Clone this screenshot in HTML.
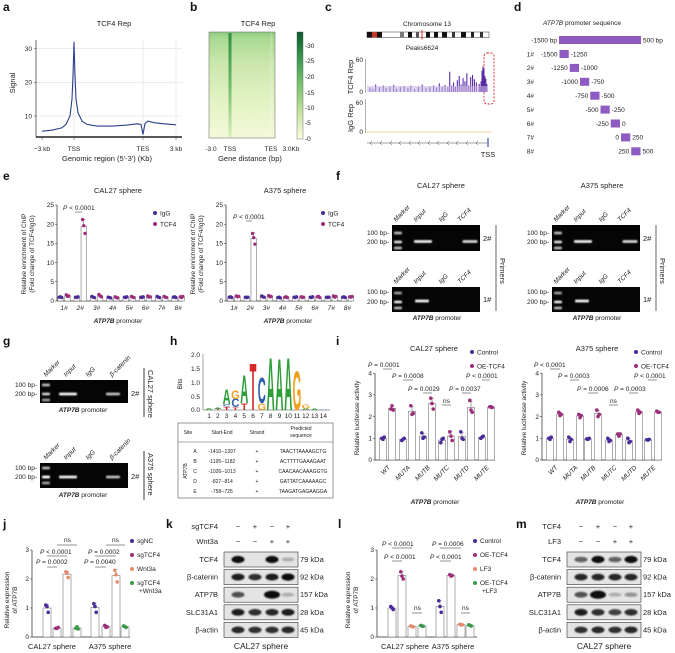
<!DOCTYPE html>
<html><head><meta charset="utf-8">
<style>
html,body{margin:0;padding:0;background:#fff;}
svg{display:block;font-family:"Liberation Sans",Arial,sans-serif;}
.t{font-size:6.5px;fill:#222;}
.tt{font-size:7.5px;fill:#222;}
.pl{font-size:12px;font-weight:bold;fill:#111;}
.it{font-style:italic;}
</style></head>
<body>
<svg id="fig" width="675" height="653" viewBox="0 0 675 653" xmlns="http://www.w3.org/2000/svg">
<defs>
<filter id="blur" x="-30%" y="-100%" width="160%" height="300%"><feGaussianBlur stdDeviation="0.9"/></filter>
<linearGradient id="hm" x1="0" y1="0" x2="0" y2="1">
<stop offset="0" stop-color="#8ccb80"/><stop offset="0.06" stop-color="#a9d991"/><stop offset="0.3" stop-color="#cbe7ad"/><stop offset="0.65" stop-color="#e3f2c3"/><stop offset="1" stop-color="#f3f9da"/></linearGradient>
<linearGradient id="hmT" x1="0" y1="0" x2="0" y2="1">
<stop offset="0" stop-color="#2f8c45"/><stop offset="0.5" stop-color="#6dbb6b"/><stop offset="1" stop-color="#d9eeb8"/></linearGradient>
<linearGradient id="cb" x1="0" y1="0" x2="0" y2="1">
<stop offset="0" stop-color="#0b5c2e"/><stop offset="0.25" stop-color="#3a9a4e"/><stop offset="0.5" stop-color="#7cc470"/><stop offset="0.75" stop-color="#c2e39f"/><stop offset="1" stop-color="#ffffe0"/></linearGradient>
</defs>

<!-- panel letters -->
<text class="pl" x="3" y="11">a</text>
<text class="pl" x="190" y="11">b</text>
<text class="pl" x="325" y="11">c</text>
<text class="pl" x="514" y="11">d</text>
<text class="pl" x="3" y="180">e</text>
<text class="pl" x="336" y="180">f</text>
<text class="pl" x="3" y="345">g</text>
<text class="pl" x="170" y="345">h</text>
<text class="pl" x="336" y="345">i</text>
<text class="pl" x="3" y="528">j</text>
<text class="pl" x="166" y="528">k</text>
<text class="pl" x="338" y="528">l</text>
<text class="pl" x="516" y="528">m</text>

<!-- a -->
<g id="pa">
<text class="tt" x="114" y="26" text-anchor="middle">TCF4 Rep</text>
<text class="tt" transform="translate(15,83) rotate(-90)" text-anchor="middle">Signal</text>
<text class="tt" x="107" y="161" text-anchor="middle">Genomic region (5′-3′) (Kb)</text>
</g>

<!-- b -->
<g>
<text class="tt" x="258" y="26" text-anchor="middle">TCF4 Rep</text>
<rect x="209" y="32" width="66" height="106" fill="url(#hm)" stroke="#777" stroke-width="0.6"/>
<rect x="228.5" y="33" width="3" height="104" fill="url(#hmT)"/>
<line x1="271" y1="33" x2="271" y2="137" stroke="#fff" stroke-width="0.5" opacity="0.6"/>
<rect x="297" y="32" width="6" height="107" fill="url(#cb)" stroke="#555" stroke-width="0.4"/>
<g class="t">
<text x="305" y="48">-30</text><text x="305" y="63">-25</text><text x="305" y="79">-20</text><text x="305" y="95">-15</text><text x="305" y="110">-10</text><text x="305" y="125">-5</text><text x="305" y="141">-0</text></g>
<g class="t" text-anchor="middle">
<text x="211" y="151">-3.0</text><text x="230" y="151">TSS</text><text x="271" y="151">TES</text><text x="291" y="151">3.0Kb</text></g>
<text class="tt" x="250" y="161" text-anchor="middle">Gene distance (bp)</text>
</g>

<!-- c -->
<g id="pc">
<text class="t" x="427" y="26" text-anchor="middle">Chromosome 13</text>
<g>
<rect x="367" y="32" width="122" height="5.5" fill="#fff" stroke="#333" stroke-width="0.5"/>
<rect x="367" y="32" width="5" height="5.5" fill="#111"/><rect x="372" y="32" width="5" height="5.5" fill="#c0392b"/><rect x="377" y="32" width="5" height="5.5" fill="#111"/>
<rect x="400" y="32" width="4" height="5.5" fill="#777"/><rect x="408" y="32" width="4" height="5.5" fill="#111"/><rect x="416" y="32" width="3" height="5.5" fill="#555"/>
<rect x="426" y="32" width="4" height="5.5" fill="#111"/><rect x="434" y="32" width="4" height="5.5" fill="#111"/><rect x="442" y="32" width="5" height="5.5" fill="#111"/><rect x="452" y="32" width="3" height="5.5" fill="#333"/><rect x="461" y="32" width="5" height="5.5" fill="#111"/><rect x="471" y="32" width="3" height="5.5" fill="#222"/><rect x="480" y="32" width="3" height="5.5" fill="#333"/>
<line x1="422" y1="30" x2="422" y2="39.5" stroke="#d00" stroke-width="0.8"/></g>
<text class="t" x="422" y="50" text-anchor="middle">Peaks6624</text>
<text class="tt" transform="translate(353,77) rotate(-90)" text-anchor="middle">TCF4 Rep</text>
<text class="tt" transform="translate(353,118) rotate(-90)" text-anchor="middle">IgG Rep</text>
<line x1="365.5" y1="59" x2="365.5" y2="93" stroke="#999" stroke-width="0.8"/>
<line x1="365.5" y1="99" x2="365.5" y2="133" stroke="#999" stroke-width="0.8"/>
<text class="t" x="363" y="62" text-anchor="end">60</text><text class="t" x="363" y="94" text-anchor="end">0</text>
<text class="t" x="363" y="105" text-anchor="end">60</text><text class="t" x="363" y="134" text-anchor="end">0</text>
<line x1="366" y1="132" x2="492" y2="132" stroke="#f0c878" stroke-width="0.8"/>
<line x1="367" y1="143" x2="487" y2="143" stroke="#444" stroke-width="0.6"/>
<g stroke="#444" stroke-width="0.5" fill="none">
<path d="M372,141 l-2,2 l2,2M382,141 l-2,2 l2,2M392,141 l-2,2 l2,2M401,141 l-2,2 l2,2M411,141 l-2,2 l2,2M420,141 l-2,2 l2,2M430,141 l-2,2 l2,2M439,141 l-2,2 l2,2M449,141 l-2,2 l2,2M458,141 l-2,2 l2,2M468,141 l-2,2 l2,2M478,141 l-2,2 l2,2"/></g>
<line x1="488" y1="138" x2="488" y2="147" stroke="#3a4fa0" stroke-width="1.2"/>
<text class="tt" x="488" y="157" text-anchor="middle">TSS</text>
<rect x="484" y="53" width="10" height="51" rx="3" fill="none" stroke="#e02020" stroke-width="0.9" stroke-dasharray="2,1.5"/>
</g>

<!-- d -->
<g id="pd">
<text class="t" x="582" y="25" text-anchor="middle"><tspan class="it">ATP7B</tspan> promoter sequence</text>
<rect x="559" y="36" width="82" height="8" fill="#8e5bc2"/>
<text class="t" x="557" y="42.5" text-anchor="end">-1500 bp</text><text class="t" x="643" y="42.5">500 bp</text>
</g>

<!-- e -->
<g id="pe">
<text class="tt" x="118" y="193" text-anchor="middle">CAL27 sphere</text>
<text class="tt" x="285" y="193" text-anchor="middle">A375 sphere</text>
<text class="t" transform="translate(26,254) rotate(-90)" text-anchor="middle">Relative enrichment of ChIP</text>
<text class="t" transform="translate(34,254) rotate(-90)" text-anchor="middle">(Fold change of TCF4/IgG)</text>
<text class="t" transform="translate(195,254) rotate(-90)" text-anchor="middle">Relative enrichment of ChIP</text>
<text class="t" transform="translate(203,254) rotate(-90)" text-anchor="middle">(Fold change of TCF4/IgG)</text>
<text class="t" x="118" y="323" text-anchor="middle"><tspan class="it" font-weight="bold">ATP7B</tspan>  promoter</text>
<text class="t" x="288" y="323" text-anchor="middle"><tspan class="it" font-weight="bold">ATP7B</tspan>  promoter</text>
<text class="t" x="63" y="210"><tspan class="it">P</tspan> &lt; 0.0001</text><line x1="75" y1="212" x2="82" y2="212" stroke="#222" stroke-width="0.5"/>
<text class="t" x="233" y="219"><tspan class="it">P</tspan> &lt; 0.0001</text><line x1="246" y1="221" x2="252" y2="221" stroke="#222" stroke-width="0.5"/>
<circle cx="155" cy="213" r="2" fill="#4b2a9a"/><text class="t" x="160" y="215.5">IgG</text>
<circle cx="155" cy="224" r="2" fill="#9c2f7b"/><text class="t" x="160" y="226.5">TCF4</text>
<circle cx="323" cy="213" r="2" fill="#4b2a9a"/><text class="t" x="328" y="215.5">IgG</text>
<circle cx="323" cy="224" r="2" fill="#9c2f7b"/><text class="t" x="328" y="226.5">TCF4</text>
</g>

<!-- f gels -->
<g id="pf">
<text class="tt" x="441" y="188" text-anchor="middle">CAL27 sphere</text>
<text class="tt" x="602" y="188" text-anchor="middle">A375 sphere</text>
</g>

<!-- g gels -->
<g id="pg"></g>

<!-- h -->
<g id="ph">
<text class="t" transform="translate(182,384) rotate(-90)" text-anchor="middle">Bits</text>
<line x1="203" y1="354" x2="203" y2="410" stroke="#444" stroke-width="0.5"/>
<line x1="203" y1="410" x2="330" y2="410" stroke="#444" stroke-width="0.5"/>
<g class="t" text-anchor="end"><text x="200" y="357">2.0</text><text x="200" y="371">1.5</text><text x="200" y="385">1.0</text><text x="200" y="399">0.5</text><text x="200" y="412">0.0</text></g>
<rect x="178" y="423" width="155" height="75" fill="#fff" stroke="#555" stroke-width="0.6"/>
<line x1="178" y1="442" x2="333" y2="442" stroke="#555" stroke-width="0.5"/>
<g font-size="5px" fill="#222" text-anchor="middle">
<text x="188" y="434">Site</text><text x="222" y="434">Start-End</text><text x="257" y="434">Strand</text><text x="301" y="430">Predicted</text><text x="301" y="437">sequence</text>
<text transform="translate(187,471) rotate(-90)">ATP7B</text>
<text x="195" y="453">A</text><text x="222" y="453">-1410--1397</text><text x="257" y="453">+</text><text x="303" y="453">TAACTTAAAAGCTG</text>
<text x="195" y="463">B</text><text x="222" y="463">-1195--1182</text><text x="257" y="463">+</text><text x="303" y="463">ACTTTTGAAAGAAT</text>
<text x="195" y="473">C</text><text x="222" y="473">-1026--1013</text><text x="257" y="473">+</text><text x="303" y="473">CAACAACAAAGGTG</text>
<text x="195" y="483">D</text><text x="222" y="483">-827--814</text><text x="257" y="483">+</text><text x="303" y="483">GATTATCAAAAAGC</text>
<text x="195" y="493">E</text><text x="222" y="493">-758--725</text><text x="257" y="493">+</text><text x="303" y="493">TAAGATGAGAAGGA</text>
</g></g>

<!-- i -->
<g id="pi">
<text class="tt" x="434" y="351" text-anchor="middle">CAL27 sphere</text>
<text class="tt" x="597" y="351" text-anchor="middle">A375 sphere</text>
<circle cx="472" cy="352" r="2" fill="#4b2a9a"/><text class="t" x="477" y="354.5">Control</text>
<circle cx="472" cy="366" r="2" fill="#9c2f7b"/><text class="t" x="477" y="368.5">OE-TCF4</text>
<circle cx="636" cy="352" r="2" fill="#4b2a9a"/><text class="t" x="641" y="354.5">Control</text>
<circle cx="636" cy="366" r="2" fill="#9c2f7b"/><text class="t" x="641" y="368.5">OE-TCF4</text>
<text class="t" transform="translate(359,418) rotate(-90)" text-anchor="middle">Relative luciferase activity</text>
<text class="t" transform="translate(526,418) rotate(-90)" text-anchor="middle">Relative luciferase activity</text>
<text class="t" x="435" y="504" text-anchor="middle"><tspan class="it" font-weight="bold">ATP7B</tspan>  promoter</text>
<text class="t" x="600" y="504" text-anchor="middle"><tspan class="it" font-weight="bold">ATP7B</tspan>  promoter</text>
<g class="t">
<text x="368" y="367"><tspan class="it">P</tspan> = 0.0001</text><line x1="383" y1="369" x2="392" y2="369" stroke="#222" stroke-width="0.5"/>
<text x="392" y="378"><tspan class="it">P</tspan> = 0.0008</text><line x1="403" y1="380" x2="413" y2="380" stroke="#222" stroke-width="0.5"/>
<text x="408" y="391"><tspan class="it">P</tspan> = 0.0029</text><line x1="423" y1="393" x2="432" y2="393" stroke="#222" stroke-width="0.5"/>
<text x="449" y="391"><tspan class="it">P</tspan> = 0.0037</text><line x1="462" y1="393" x2="471" y2="393" stroke="#222" stroke-width="0.5"/>
<text x="466" y="378"><tspan class="it">P</tspan> &lt; 0.0001</text><line x1="482" y1="380" x2="490" y2="380" stroke="#222" stroke-width="0.5"/>
<text x="443" y="403">ns</text><line x1="442" y1="405" x2="451" y2="405" stroke="#222" stroke-width="0.5"/>
<text x="534" y="367"><tspan class="it">P</tspan> &lt; 0.0001</text><line x1="550" y1="369" x2="560" y2="369" stroke="#222" stroke-width="0.5"/>
<text x="558" y="378"><tspan class="it">P</tspan> = 0.0003</text><line x1="570" y1="380" x2="579" y2="380" stroke="#222" stroke-width="0.5"/>
<text x="577" y="391"><tspan class="it">P</tspan> = 0.0006</text><line x1="588" y1="393" x2="598" y2="393" stroke="#222" stroke-width="0.5"/>
<text x="614" y="391"><tspan class="it">P</tspan> = 0.0003</text><line x1="629" y1="393" x2="638" y2="393" stroke="#222" stroke-width="0.5"/>
<text x="634" y="378"><tspan class="it">P</tspan> &lt; 0.0001</text><line x1="648" y1="380" x2="657" y2="380" stroke="#222" stroke-width="0.5"/>
<text x="610" y="403">ns</text><line x1="609" y1="405" x2="618" y2="405" stroke="#222" stroke-width="0.5"/>
</g></g>

<!-- j -->
<g id="pj">
<text class="t" transform="translate(9,600) rotate(-90)" text-anchor="middle">Relative expression</text>
<text class="t" transform="translate(17,600) rotate(-90)" text-anchor="middle">of ATP7B</text>
<text class="tt" x="52" y="649" text-anchor="middle">CAL27 sphere</text><text class="tt" x="110" y="649" text-anchor="middle">A375 sphere</text>
<g class="t">
<text x="64" y="542">ns</text><line x1="57" y1="545" x2="77" y2="545" stroke="#222" stroke-width="0.5"/>
<text x="40" y="554"><tspan class="it">P</tspan> &lt; 0.0001</text><line x1="47" y1="556" x2="67" y2="556" stroke="#222" stroke-width="0.5"/>
<text x="36" y="564"><tspan class="it">P</tspan> = 0.0002</text><line x1="47" y1="567" x2="57" y2="567" stroke="#222" stroke-width="0.5"/>
<text x="112" y="542">ns</text><line x1="106" y1="545" x2="125" y2="545" stroke="#222" stroke-width="0.5"/>
<text x="88" y="554"><tspan class="it">P</tspan> = 0.0002</text><line x1="95" y1="556" x2="116" y2="556" stroke="#222" stroke-width="0.5"/>
<text x="84" y="564"><tspan class="it">P</tspan> = 0.0040</text><line x1="95" y1="567" x2="106" y2="567" stroke="#222" stroke-width="0.5"/>
<circle cx="132" cy="541" r="2" fill="#4b2a9a"/><text x="137" y="543">sgNC</text>
<circle cx="132" cy="555" r="2" fill="#9c2f7b"/><text x="137" y="557">sgTCF4</text>
<circle cx="132" cy="569" r="2" fill="#e88a70"/><text x="137" y="571">Wnt3a</text>
<circle cx="132" cy="583" r="2" fill="#3a9a4a"/><text x="137" y="585">sgTCF4</text><text x="139" y="593">+Wnt3a</text>
</g></g>

<!-- l -->
<g id="pl">
<text class="t" transform="translate(350,600) rotate(-90)" text-anchor="middle">Relative expression</text>
<text class="t" transform="translate(358,600) rotate(-90)" text-anchor="middle">of ATP7B</text>
<text class="tt" x="405" y="649" text-anchor="middle">CAL27 sphere</text><text class="tt" x="453" y="649" text-anchor="middle">A375 sphere</text>
<g class="t">
<text x="382" y="546"><tspan class="it">P</tspan> &lt; 0.0001</text><line x1="392" y1="548" x2="412" y2="548" stroke="#222" stroke-width="0.5"/>
<text x="384" y="559"><tspan class="it">P</tspan> &lt; 0.0001</text><line x1="392" y1="561" x2="402" y2="561" stroke="#222" stroke-width="0.5"/>
<text x="432" y="546"><tspan class="it">P</tspan> = 0.0006</text><line x1="440" y1="548" x2="461" y2="548" stroke="#222" stroke-width="0.5"/>
<text x="430" y="559"><tspan class="it">P</tspan> &lt; 0.0001</text><line x1="440" y1="561" x2="451" y2="561" stroke="#222" stroke-width="0.5"/>
<text x="414" y="610">ns</text><line x1="412" y1="613" x2="422" y2="613" stroke="#222" stroke-width="0.5"/>
<text x="462" y="610">ns</text><line x1="461" y1="613" x2="470" y2="613" stroke="#222" stroke-width="0.5"/>
<circle cx="475" cy="541" r="2" fill="#4b2a9a"/><text x="480" y="543">Control</text>
<circle cx="475" cy="555" r="2" fill="#9c2f7b"/><text x="480" y="557">OE-TCF4</text>
<circle cx="475" cy="569" r="2" fill="#e88a70"/><text x="480" y="571">LF3</text>
<circle cx="475" cy="583" r="2" fill="#3a9a4a"/><text x="480" y="585">OE-TCF4</text><text x="482" y="593">+LF3</text>
</g></g>

<g id="pk"></g>
<g id="pm"></g>
</svg>

<script>
// ---------- data ----------
const aBins = [0,10,20,24,28,30,31,32,33,34,36,40,45,55,70,85,95,99,101,103,106,112,122,134];
const aSignal = [5.5,5.8,6.5,7.5,10,15,22,32,22,15,11,8.5,7.5,7.0,7.0,7.3,7.7,7.5,4.5,7.8,8.5,8.0,7.7,7.4];
const aTicks = [10,20,30];

const trackPos = [2,5,8,12,16,19,23,27,30,34,38,42,45,49,53,57,61,65,69,72,75,78,81,84,86,88,90,92,94,96,98,100,102,104,106,108,110,112,114,117,118,119,120,121,122,123,124,125];
const trackVal = [8,6,14,9,12,7,10,13,6,9,11,8,12,6,10,14,7,9,12,8,16,10,13,9,38,12,18,10,22,30,14,26,20,35,12,28,32,24,18,15,10,20,40,48,44,30,25,15];

const segStart = [-1500,-1250,-1000,-750,-500,-250,0,250];

const eCats = ['1#','2#','3#','4#','5#','6#','7#','8#'];
const eTicks = [0,5,10,15,20,25];
const eCalIgG = [[1.0,1.1,0.9],[1.0,0.9,1.1],[1.2,1.0,0.9],[1.0,0.9,0.8],[1.0,0.9,1.1],[1.0,0.9,1.1],[1.2,1.0,0.9],[1.0,1.1,0.9]];
const eCalTCF4 = [[1.6,1.2,1.3],[21.2,19.6,17.6],[1.7,1.3,1.1],[1.1,0.9,0.8],[1.2,1.0,0.9],[1.3,1.0,1.1],[1.2,1.0,0.9],[1.1,0.9,1.2]];
const eA375IgG = [[1.0,1.1,0.9],[1.0,0.9,1.0],[1.3,1.1,1.0],[0.9,1.0,0.8],[1.0,0.9,1.1],[1.0,0.9,1.1],[1.0,0.9,1.0],[1.0,1.1,0.9]];
const eA375TCF4 = [[1.3,1.1,1.2],[17.6,16.5,14.8],[1.4,1.1,1.2],[1.0,1.1,0.9],[1.1,0.9,1.0],[1.1,1.2,0.9],[1.3,1.0,1.2],[1.1,1.0,1.2]];

const iCats = ['WT','MUTA','MUTB','MUTC','MUTD','MUTE'];
const iTicks = [0,1,2,3,4];
const iCalCtrl = [[1.0,0.95,1.05],[0.9,0.95,1.0],[1.25,1.0,1.05],[0.8,0.95,1.0],[1.3,1.0,0.95],[1.0,1.05,1.1]];
const iCalOE = [[2.35,2.5,2.3],[2.5,2.1,2.15],[2.85,2.6,2.35],[1.3,1.1,0.9],[2.75,2.3,2.2],[2.45,2.45,2.42]];
const iA375Ctrl = [[1.0,0.95,1.05],[1.05,0.85,0.95],[0.97,0.95,1.0],[1.0,0.85,0.9],[1.0,0.8,0.85],[0.93,0.92,0.95]];
const iA375OE = [[2.2,2.05,2.1],[2.1,1.95,2.05],[2.3,2.0,2.1],[1.2,1.1,1.2],[2.3,2.15,2.2],[2.25,2.2,2.2]];

const jTicks = [0,1,2,3];
const jGroups = ['CAL27 sphere','A375 sphere'];
const jVals = [[1.1,1.05,0.85],[0.3,0.3,0.33],[2.25,2.2,2.05],[0.3,0.35,0.28],[1.15,1.05,0.85],[0.4,0.33,0.35],[2.3,2.15,1.9],[0.38,0.35,0.33]];
const lVals = [[1.05,1.0,0.95],[2.25,2.1,2.0],[0.38,0.36,0.35],[0.4,0.38,0.37],[1.25,1.05,0.85],[2.15,2.1,2.12],[0.44,0.42,0.42],[0.42,0.4,0.38]];

const kSigns1 = ['−','+','−','+'];
const kSigns2 = ['−','−','+','+'];
const blotRows = ['TCF4','β-catenin','ATP7B','SLC31A1','β-actin'];
const blotKDa = ['79 kDa','92 kDa','157 kDa','28 kDa','45 kDa'];
const kBand = [[1,0,1,0.05],[0.9,0.8,0.9,1],[0.6,0,1.2,0.05],[0.9,0.8,0.85,0.9],[0.85,0.8,0.8,0.85]];
const mBand = [[0.5,1,0.5,1],[0.85,0.85,0.85,0.85],[0.6,1.3,0.05,0.2],[0.9,0.8,0.7,0.8],[0.8,0.85,0.8,0.85]];

// ---------- helpers ----------
const NS='http://www.w3.org/2000/svg';
const svg=document.getElementById('fig');
function mk(tag,attrs,parent){const el=document.createElementNS(NS,tag);for(const k in attrs)el.setAttribute(k,attrs[k]);(parent||svg).appendChild(el);return el;}
function txt(s,attrs,parent){const el=mk('text',attrs,parent);el.textContent=s;return el;}
const mean=a=>a.reduce((p,c)=>p+c,0)/a.length;
const sd=a=>{const m=mean(a);return Math.sqrt(a.reduce((p,c)=>p+(c-m)*(c-m),0)/(a.length-1));};

// ---------- a: profile ----------
(function(){
const g=document.getElementById('pa');
const x=b=>42+b, y=v=>149.7-v*3.37;
aTicks.forEach(t=>{const gl=mk('line',{x1:36,x2:182,y1:y(t),y2:y(t),stroke:'#e6e6e6','stroke-width':0.8},g);


const tl=txt(String(t),{x:32,y:y(t)+2.3,'text-anchor':'end',class:'t'},g);


mk('line',{x1:34,x2:36,y1:y(t),y2:y(t),stroke:'#333','stroke-width':0.5},g);});
[32,101,134].forEach(b=>mk('line',{x1:x(b),x2:x(b),y1:40,y2:137,stroke:'#e6e6e6','stroke-width':0.8},g));
mk('line',{x1:36,x2:36,y1:40,y2:137,stroke:'#333','stroke-width':0.7},g);
mk('line',{x1:36,x2:182,y1:137,y2:137,stroke:'#222','stroke-width':1.6},g);
[['−3 kb',0],['TSS',32],['TES',101],['3 kb',134]].forEach(([s,b])=>{mk('line',{x1:x(b),x2:x(b),y1:137,y2:140,stroke:'#333','stroke-width':0.5},g);
const t=txt(s,{x:x(b),y:151,'text-anchor':'middle',class:'t'},g);

});
const d=aBins.map((b,i)=>(i?'L':'M')+x(b).toFixed(1)+','+y(aSignal[i]).toFixed(1)).join(' ');
const p=mk('path',{d:d,fill:'none',stroke:'#2b3f8f','stroke-width':1.1},g);


})();

// ---------- c: track ----------
(function(){
const g=document.getElementById('pc');
const x=p=>367.5+p*0.95, y=v=>92-v*32/60;
trackPos.forEach((p,i)=>{const b=mk('rect',{x:x(p),y:y(trackVal[i]),width:1.1,height:92-y(trackVal[i]),fill:'#5b2aa6'},g);

});
mk('rect',{x:367,y:86,width:120,height:6,fill:'#c9b8e6',opacity:0.6},g);
})();

// ---------- d: segments ----------
(function(){
const g=document.getElementById('pd');
const x=bp=>559+(bp+1500)*82/2000;
const rowY=i=>54+i*13.9;
segStart.forEach((s,i)=>{const yy=rowY(i);
txt((i+1)+'#',{x:534,y:yy+2.3,'text-anchor':'end',class:'t'},g);
const r=mk('rect',{x:x(s)+0.5,y:yy-4,width:x(s+250)-x(s)-1,height:8,fill:'#8e5bc2'},g);


txt(String(s),{x:x(s)-1.5,y:yy+2.3,'text-anchor':'end',class:'t'},g);
txt(String(s+250),{x:x(s+250)+1.5,y:yy+2.3,class:'t'},g);});
})();

// ---------- bar chart generic ----------
function barChart(g,opt){
const y=v=>opt.y0-v*opt.k;
mk('line',{x1:opt.x0,x2:opt.x0,y1:y(opt.ticks[opt.ticks.length-1]),y2:opt.y0,stroke:'#222','stroke-width':0.7},g);
mk('line',{x1:opt.x0,x2:opt.x1,y1:opt.y0,y2:opt.y0,stroke:'#222','stroke-width':0.7},g);
opt.ticks.forEach(t=>{mk('line',{x1:opt.x0-2,x2:opt.x0,y1:y(t),y2:y(t),stroke:'#222','stroke-width':0.5},g);
const tl=txt(String(t),{x:opt.x0-3,y:y(t)+2.2,'text-anchor':'end',class:'t'},g);

});
opt.series.forEach((reps,i)=>{const cx=opt.xs[i], m=mean(reps), s=sd(reps), w=opt.bw;
const bar=mk('rect',{x:cx-w/2,y:y(m),width:w,height:opt.y0-y(m),fill:'#fff',stroke:'#777','stroke-width':0.6},g);


mk('line',{x1:cx,x2:cx,y1:y(m+s),y2:y(m),stroke:'#555','stroke-width':0.5},g);
mk('line',{x1:cx-1.5,x2:cx+1.5,y1:y(m+s),y2:y(m+s),stroke:'#555','stroke-width':0.5},g);
reps.forEach((v,j)=>{const dot=mk('circle',{cx:cx+(j-1)*1.2,cy:y(v),r:opt.r||1.8,fill:opt.colors[i]},g);

});});
}

// e
(function(){
const g=document.getElementById('pe');
[[57,182,64,eCalIgG,eCalTCF4,16.3],[226,352,234,eA375IgG,eA375TCF4,16.2]].forEach(([x0,x1,c0,igg,tcf,st])=>{
const xs=[],ser=[],cols=[];
eCats.forEach((c,i)=>{xs.push(c0+i*st-3.5,c0+i*st+3.5);ser.push(igg[i],tcf[i]);cols.push('#4b2a9a','#9c2f7b');
const tl=txt(c,{x:c0+i*st,y:310,'text-anchor':'middle',class:'t','font-style':'italic'},g);

});
barChart(g,{x0:x0,x1:x1,y0:301,k:3.84,ticks:eTicks,xs:xs,series:ser,colors:cols,bw:5.5,r:1.7});});
})();

// i
(function(){
const g=document.getElementById('pi');
[[375,495,[383,403,423,442,462,482],9,iCalCtrl,iCalOE],[542,662,[550,570,588,609,629,648],10,iA375Ctrl,iA375OE]].forEach(([x0,x1,cx,off,ct,oe])=>{
const xs=[],ser=[],cols=[];
iCats.forEach((c,i)=>{xs.push(cx[i],cx[i]+off);ser.push(ct[i],oe[i]);cols.push('#4b2a9a','#9c2f7b');
const tl=txt(c,{transform:'translate('+(cx[i]+off/2+3)+',468) rotate(-45)','text-anchor':'end',class:'t','font-style':'italic'},g);

});
barChart(g,{x0:x0,x1:x1,y0:460,k:21.7,ticks:iTicks,xs:xs,series:ser,colors:cols,bw:7});});
})();

// j & l
(function(){
const cols=['#4b2a9a','#9c2f7b','#e88a70','#3a9a4a','#4b2a9a','#9c2f7b','#e88a70','#3a9a4a'];
barChart(document.getElementById('pj'),{x0:32,x1:130,y0:637,k:29,ticks:jTicks,xs:[47,57,67,77,95,106,116,125],series:jVals,colors:cols,bw:8});
barChart(document.getElementById('pl'),{x0:377,x1:477,y0:637,k:29,ticks:jTicks,xs:[392,402,412,422,440,451,461,470],series:lVals,colors:cols,bw:8});
})();

// ---------- gels ----------
function gel(parent,x,y,w,h,bands,name){
const r=mk('rect',{x:x,y:y,width:w,height:h,fill:'#050505'},parent);


bands.forEach(b=>{mk('rect',{x:b[0]-b[2]/2,y:b[1]-1.4,width:b[2],height:2.8,rx:1,fill:'#fff',opacity:b[3],filter:'url(#blur)'},parent);});
}
function laneLabels(parent,xs,yb,labels){labels.forEach((s,i)=>{const t=txt(s,{transform:'translate('+xs[i]+','+yb+') rotate(-45)',class:'t','font-style':'italic'},parent);

});}
function bpLabels(parent,xr,y1,y2){txt('100 bp-',{x:xr,y:y1+2,'text-anchor':'end',class:'t'},parent);txt('200 bp-',{x:xr,y:y2+2,'text-anchor':'end',class:'t'},parent);}
(function(){
const g=document.getElementById('pf');
[[392,0],[552,160]].forEach(([gx,dx])=>{
const lx=[gx+4,gx+24,gx+49,gx+68];
laneLabels(g,lx,222,['Marker','Input','IgG','TCF4']);
gel(g,gx,225,88,26,[[gx+6,233,8,0.7],[gx+6,242,8,0.85],[gx+6,248,8,0.7],[gx+31,241.5,18,0.95],[gx+78,241.5,15,0.85]],'gel-primer-2');
bpLabels(g,gx-3,233,242);
txt('2#',{x:gx+91,y:241,class:'tt'},g);
laneLabels(g,lx,284,['Marker','Input','IgG','TCF4']);
gel(g,gx,287,88,25,[[gx+6,293,8,0.6],[gx+6,302,8,0.9],[gx+6,308,8,0.7],[gx+30,301,14,0.95]],'gel-primer-1');
bpLabels(g,gx-3,292,302);
txt('1#',{x:gx+91,y:302,class:'tt'},g);
mk('line',{x1:gx+104,x2:gx+104,y1:225,y2:311,stroke:'#222','stroke-width':0.7},g);
txt('Primers',{transform:'translate('+(gx+108)+',258) rotate(90)',class:'tt'},g);
const pr=txt('',{x:gx+45,y:320,'text-anchor':'middle',class:'t'},g);
pr.innerHTML='<tspan font-style="italic" font-weight="bold">ATP7B</tspan>  promoter';});
})();
(function(){
const g=document.getElementById('pg');
[[380,'CAL27 sphere'],[463,'A375 sphere']].forEach(([gy,lab],k)=>{
laneLabels(g,[46,66,88,112],gy-3,['Marker','Input','IgG','β-catenin']);
gel(g,40,gy,88,k?25:23,[[46,gy+5,8,0.7],[46,gy+14,8,k?1:0.8],[46,gy+20,8,0.6],[68,gy+14,18,0.95],[113,gy+14,14,0.75]],'gel-beta-catenin');
bpLabels(g,37,gy+5,gy+14);
txt('2#',{x:131,y:gy+16,class:'tt'},g);
mk('line',{x1:144,x2:144,y1:gy-12,y2:gy+37,stroke:'#222','stroke-width':0.9},g);
txt(lab,{transform:'translate(148,'+(gy-10)+') rotate(90)',class:'tt'},g);
const pr=txt('',{x:83,y:gy+(k?34:32),'text-anchor':'middle',class:'t'},g);
pr.innerHTML='<tspan font-style="italic" font-weight="bold">ATP7B</tspan>  promoter';});
})();

// ---------- h logo ----------
const logoStacks = [[['A',0.06]],[['T',0.04],['A',0.05]],[['T',0.12],['C',0.1],['A',0.55]],[['T',0.1],['C',0.3],['G',0.3]],[['T',0.25],['A',1.05]],[['T',1.75]],[['G',0.25],['C',0.95]],[['A',1.95]],[['A',1.92]],[['A',1.95]],[['G',1.45]],[['A',0.06],['G',0.15]],[['A',0.04]],[['C',0.03]]];
(function(){
const g=document.getElementById('ph');
const colors={A:'#2e9d3a',C:'#2c5fae',G:'#f0a020',T:'#d62828'};
const x=p=>209+p*8.8, y=b=>410-b*28;
logoStacks.forEach((st,i)=>{let base=0;
st.forEach(([ch,h])=>{const y1=y(base), hp=h*28;
const t=txt(ch,{transform:'translate('+x(i)+','+y1+') scale('+(8/7.2)+','+(hp/7.3)+')','text-anchor':'middle','font-size':'10px','font-weight':'bold',fill:colors[ch]},g);


base+=h;});
txt(String(i+1),{x:x(i),y:418,'text-anchor':'middle',class:'t'},g);});
})();

// ---------- western blots ----------
function blot(g,bx,labRight,s1,s2,n1,n2,bands){
const sx=[bx+14,bx+31,bx+48,bx+64];
txt(n1,{x:labRight,y:529,'text-anchor':'end',class:'tt'},g);
txt(n2,{x:labRight,y:544,'text-anchor':'end',class:'tt'},g);
sx.forEach((x,i)=>{txt(s1[i],{x:x,y:529,'text-anchor':'middle',class:'tt'},g);txt(s2[i],{x:x,y:544,'text-anchor':'middle',class:'tt'},g);});
blotRows.forEach((r,ri)=>{const yy=552+ri*17.6;
const box=mk('rect',{x:bx,y:yy,width:74,height:15,fill:'#e4e4e4',stroke:'#333','stroke-width':0.6},g);


bands[ri].forEach((v,i)=>{if(v>0.02){const b=mk('ellipse',{cx:sx[i],cy:yy+7.5,rx:6.5+(v>1?1.5:0),ry:2+v*1.6,fill:'#111',opacity:Math.min(1,0.2+v*0.8),filter:'url(#blur)'},g);

}});
txt(r,{x:labRight,y:yy+10,'text-anchor':'end',class:'tt'},g);
txt(blotKDa[ri],{x:bx+76,y:yy+10,class:'tt'},g);});
txt('CAL27 sphere',{x:bx+37,y:649,'text-anchor':'middle','font-size':'8.5px',fill:'#222'},g);
}
blot(document.getElementById('pk'),224,218,kSigns1,kSigns2,'sgTCF4','Wnt3a',kBand);
blot(document.getElementById('pm'),567,561,kSigns1,kSigns2,'TCF4','LF3',mBand);
</script>
</body></html>
